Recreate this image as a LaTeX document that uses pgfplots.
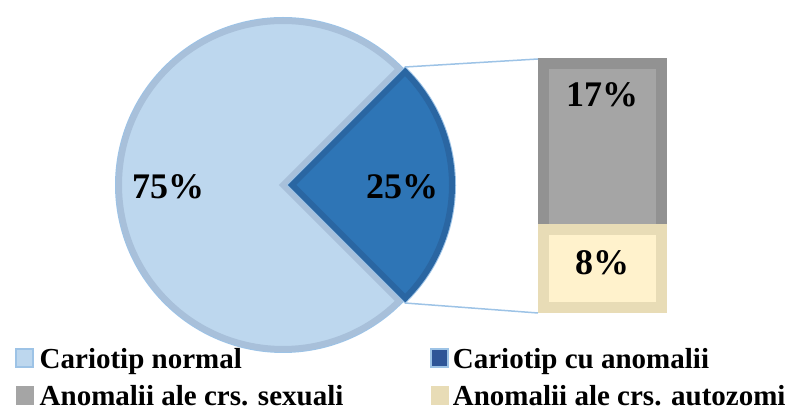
\documentclass[border=0pt]{standalone}
\usepackage{pgfplots}
\pgfplotsset{compat=1.18}
\usepackage{pgfplotstable}
\usepackage{fontspec}
\setmainfont{Liberation Serif}
\definecolor{lightfill}{HTML}{BDD7EE}
\definecolor{lightborder}{HTML}{A8C0DA}
\definecolor{darkfill}{HTML}{2E75B6}
\definecolor{darkborder}{HTML}{2A66A2}
\definecolor{outline}{HTML}{9DC3E6}
\definecolor{grayfill}{HTML}{A5A5A5}
\definecolor{grayborder}{HTML}{929292}
\definecolor{beigefill}{HTML}{FFF2CC}
\definecolor{beigeborder}{HTML}{E8DCB6}
\definecolor{legdark}{HTML}{2F5597}
\pgfplotstableread{
label value
normal 75
anomalii 25
}\pietable
\pgfplotstableread{
label value
autozomi 8
sexuali 17
}\bartable
\begin{document}
\begin{tikzpicture}
\pgfplotstablegetelem{0}{value}\of\pietable \let\vNormal\pgfplotsretval
\pgfplotstablegetelem{1}{value}\of\pietable \let\vAnom\pgfplotsretval
\pgfplotstablegetelem{0}{value}\of\bartable \let\vAuto\pgfplotsretval
\pgfplotstablegetelem{1}{value}\of\bartable \let\vSex\pgfplotsretval
\pgfmathsetmacro{\dStart}{-\vAnom*3.6/2}
\pgfmathsetmacro{\dEnd}{\vAnom*3.6/2}
\pgfmathsetmacro{\lStart}{\dEnd}
\pgfmathsetmacro{\lEnd}{\dEnd+\vNormal*3.6}
\useasboundingbox (0,0) rectangle (786pt,412pt);
% bar of pie
\begin{axis}[
  at={(0,0)}, anchor=south west,
  x=1pt, y=9.76pt, xmin=0, xmax=786, ymin=-10.707, ymax=31.506,
  hide axis, clip=false, ybar stacked, bar width=118pt,
]
\addplot[fill=beigefill, draw=beigeborder, line width=11pt] coordinates {(602.5,\vAuto)};
\addplot[fill=grayfill, draw=grayborder, line width=11pt] coordinates {(602.5,\vSex)};
\end{axis}
\begin{axis}[
  at={(0,0)}, anchor=south west,
  x=1pt, y=1pt, xmin=0, xmax=786, ymin=0, ymax=412,
  hide axis, clip=false,
  legend columns=2,
  legend cell align=left,
  legend image code/.code={\filldraw[#1] (0pt,-8pt) rectangle (17pt,10pt);},
  legend style={draw=none, fill=none, at={(axis cs:12,67)}, anchor=north west,
    font=\bfseries\fontsize{29}{29}\selectfont,
    nodes={inner sep=0pt, text height=21pt, text depth=3pt},
    /tikz/row sep=13pt,
    /tikz/column 1/.style={column sep=6pt},
    /tikz/column 2/.style={column sep=87pt},
    /tikz/column 3/.style={column sep=4pt}},
  legend entries={Cariotip normal, Cariotip cu anomalii, Anomalii ale crs. sexuali, Anomalii ale crs. autozomi},
]
\addlegendimage{fill=lightfill, draw=outline, line width=1.5pt}
\addlegendimage{fill=legdark, draw=outline, line width=1.5pt}
\addlegendimage{fill=grayfill, draw=grayfill}
\addlegendimage{fill=beigeborder, draw=beigeborder}
\addplot[forget plot, outline, line width=1.5pt] coordinates {(405,345) (538,353)};
\addplot[forget plot, outline, line width=1.5pt] coordinates {(405,109) (538,99)};
\filldraw[fill=lightfill, draw=lightborder, line width=6pt, line join=miter,
  preaction={draw=outline, line width=8pt}]
  (axis cs:283,227) -- ++(\lStart:164pt) arc[start angle=\lStart, end angle=\lEnd, radius=164pt] -- cycle;
\filldraw[fill=darkfill, draw=darkborder, line width=6pt, line join=miter,
  preaction={draw=outline, line width=8pt}]
  (axis cs:292,227) -- ++(\dStart:160pt) arc[start angle=\dStart, end angle=\dEnd, radius=160pt] -- cycle;
\node[font=\bfseries\fontsize{36}{36}\selectfont] at (axis cs:168,225) {\vNormal\%};
\node[font=\bfseries\fontsize{36}{36}\selectfont] at (axis cs:402,225) {\vAnom\%};
\node[font=\bfseries\fontsize{36}{36}\selectfont] at (axis cs:602,317) {\vSex\%};
\node[font=\bfseries\fontsize{36}{36}\selectfont] at (axis cs:602,149) {\vAuto\%};
\end{axis}
\end{tikzpicture}
\end{document}
